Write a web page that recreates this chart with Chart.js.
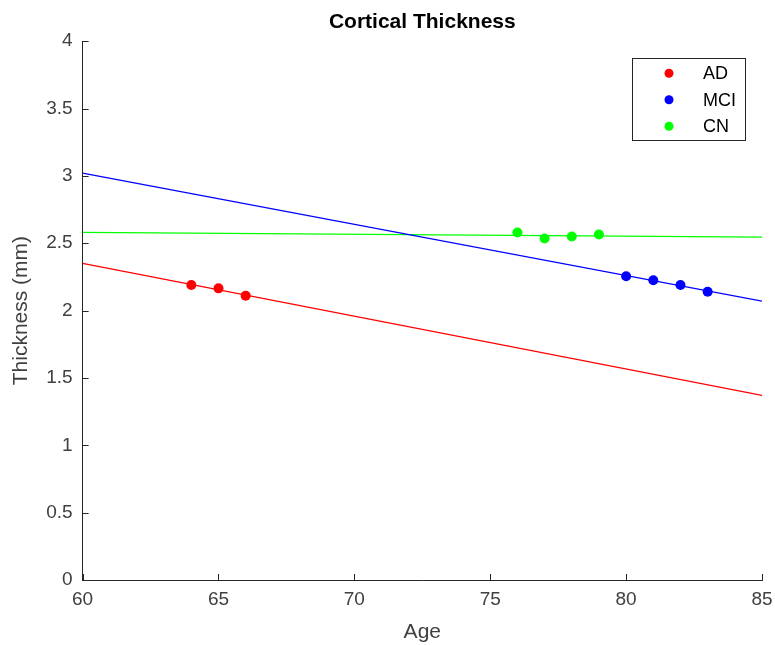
<!DOCTYPE html>
<html>
<head>
<meta charset="utf-8">
<title>Cortical Thickness</title>
<script src="https://cdn.jsdelivr.net/npm/chart.js@4.4.1/dist/chart.umd.min.js"></script>
<style>
  html, body { margin: 0; padding: 0; background: #fff; }
  #wrap { width: 775px; height: 645px; }
</style>
</head>
<body>
<div id="wrap"><canvas id="chart" width="775" height="645"></canvas></div>
<script>
// group samples
const groupNames = ['AD', 'MCI', 'CN'];
const groupColors = ['#ff0000', '#0000ff', '#00ff00'];

const adAge = [64, 65, 66];
const adThk = [2.19, 2.165, 2.11];
const mciAge = [80, 81, 82, 83];
const mciThk = [2.255, 2.225, 2.19, 2.14];
const cnAge = [76, 77, 78, 79];
const cnThk = [2.58, 2.535, 2.55, 2.565];

// fitted lines, endpoints at the axis limits
const fitAge = [60, 85];
const adFit = [2.35, 1.37];
const mciFit = [3.02, 2.07];
const cnFit = [2.58, 2.545];

// axis ticks
const xTicks = [60, 65, 70, 75, 80, 85];
const yTicks = [0, 0.5, 1, 1.5, 2, 2.5, 3, 3.5, 4];

const FONT = "'Liberation Sans', Arial, Helvetica, sans-serif";
const AXIS_COLOR = '#262626';

function pts(xs, ys) {
  return xs.map((x, i) => ({ x: x, y: ys[i] }));
}

const ages = [adAge, mciAge, cnAge];
const thks = [adThk, mciThk, cnThk];
const fits = [adFit, mciFit, cnFit];

const datasets = [];
groupNames.forEach((name, i) => {
  datasets.push({
    label: name,
    data: pts(ages[i], thks[i]),
    backgroundColor: groupColors[i],
    borderColor: groupColors[i],
    pointRadius: 5,
    pointBorderWidth: 0,
    showLine: false,
    order: 1
  });
});
groupNames.forEach((name, i) => {
  datasets.push({
    label: name + ' fit',
    data: pts(fitAge, fits[i]),
    borderColor: groupColors[i],
    borderWidth: 1.3,
    pointRadius: 0,
    showLine: true,
    fill: false,
    order: 2
  });
});

// MATLAB-style inward tick marks
const inwardTicks = {
  id: 'inwardTicks',
  afterDraw(chart) {
    const ctx = chart.ctx;
    const xs = chart.scales.x, ys = chart.scales.y;
    const len = 6;
    ctx.save();
    ctx.strokeStyle = AXIS_COLOR;
    ctx.lineWidth = 1;
    ctx.beginPath();
    xs.ticks.forEach(t => {
      const px = Math.round(xs.getPixelForValue(t.value)) + 0.5;
      ctx.moveTo(px, ys.bottom);
      ctx.lineTo(px, ys.bottom - len);
    });
    ys.ticks.forEach(t => {
      const py = Math.round(ys.getPixelForValue(t.value)) + 0.5;
      ctx.moveTo(xs.left, py);
      ctx.lineTo(xs.left + len, py);
    });
    ctx.stroke();
    ctx.restore();
  }
};

// boxed legend in the upper right of the axes
const boxLegend = {
  id: 'boxLegend',
  afterDraw(chart) {
    const ctx = chart.ctx;
    const area = chart.chartArea;
    const w = 113, h = 82;
    const left = area.right - 17 - w;
    const top = area.top + 17;
    ctx.save();
    ctx.fillStyle = '#fff';
    ctx.fillRect(left, top, w, h);
    ctx.strokeStyle = AXIS_COLOR;
    ctx.lineWidth = 1;
    ctx.strokeRect(Math.round(left) + 0.5, Math.round(top) + 0.5, w, h);
    ctx.font = '18px ' + FONT;
    ctx.textBaseline = 'middle';
    groupNames.forEach((name, i) => {
      const cy = top + 15 + i * 26.5;
      ctx.fillStyle = groupColors[i];
      ctx.beginPath();
      ctx.arc(left + 37, cy, 4.5, 0, Math.PI * 2);
      ctx.fill();
      ctx.fillStyle = '#000';
      ctx.fillText(name, left + 71, cy + 1);
    });
    ctx.restore();
  }
};

new Chart(document.getElementById('chart'), {
  type: 'scatter',
  data: { datasets: datasets },
  options: {
    responsive: false,
    animation: false,
    layout: { padding: { left: 9, right: 13, top: 6, bottom: 0 } },
    plugins: {
      legend: { display: false },
      tooltip: { enabled: false },
      title: {
        display: true,
        text: 'Cortical Thickness',
        fullSize: false,
        color: '#000',
        font: { family: FONT, size: 21, weight: 'bold' },
        padding: { top: 4, bottom: 6 }
      }
    },
    scales: {
      x: {
        type: 'linear',
        min: 60,
        max: 85,
        afterBuildTicks: s => { s.ticks = xTicks.map(v => ({ value: v })); },
        afterFit: s => { s.paddingLeft = 0; s.paddingRight = 0; },
        grid: { display: false, drawTicks: false },
        border: { display: true, color: AXIS_COLOR, width: 1 },
        ticks: {
          color: '#404040',
          font: { family: FONT, size: 19 },
          padding: 8,
          maxRotation: 0,
          callback: v => String(v)
        },
        title: {
          display: true,
          text: 'Age',
          color: '#404040',
          font: { family: FONT, size: 21 },
          padding: { top: 1, bottom: 0 }
        }
      },
      y: {
        type: 'linear',
        min: 0,
        max: 4,
        afterBuildTicks: s => { s.ticks = yTicks.map(v => ({ value: v })); },
        grid: { display: false, drawTicks: false },
        border: { display: true, color: AXIS_COLOR, width: 1 },
        ticks: {
          color: '#404040',
          font: { family: FONT, size: 19 },
          padding: 10,
          callback: v => String(v)
        },
        title: {
          display: true,
          text: 'Thickness (mm)',
          color: '#404040',
          font: { family: FONT, size: 21 },
          padding: { top: 0, bottom: 2 }
        }
      }
    }
  },
  plugins: [inwardTicks, boxLegend]
});
</script>
</body>
</html>
